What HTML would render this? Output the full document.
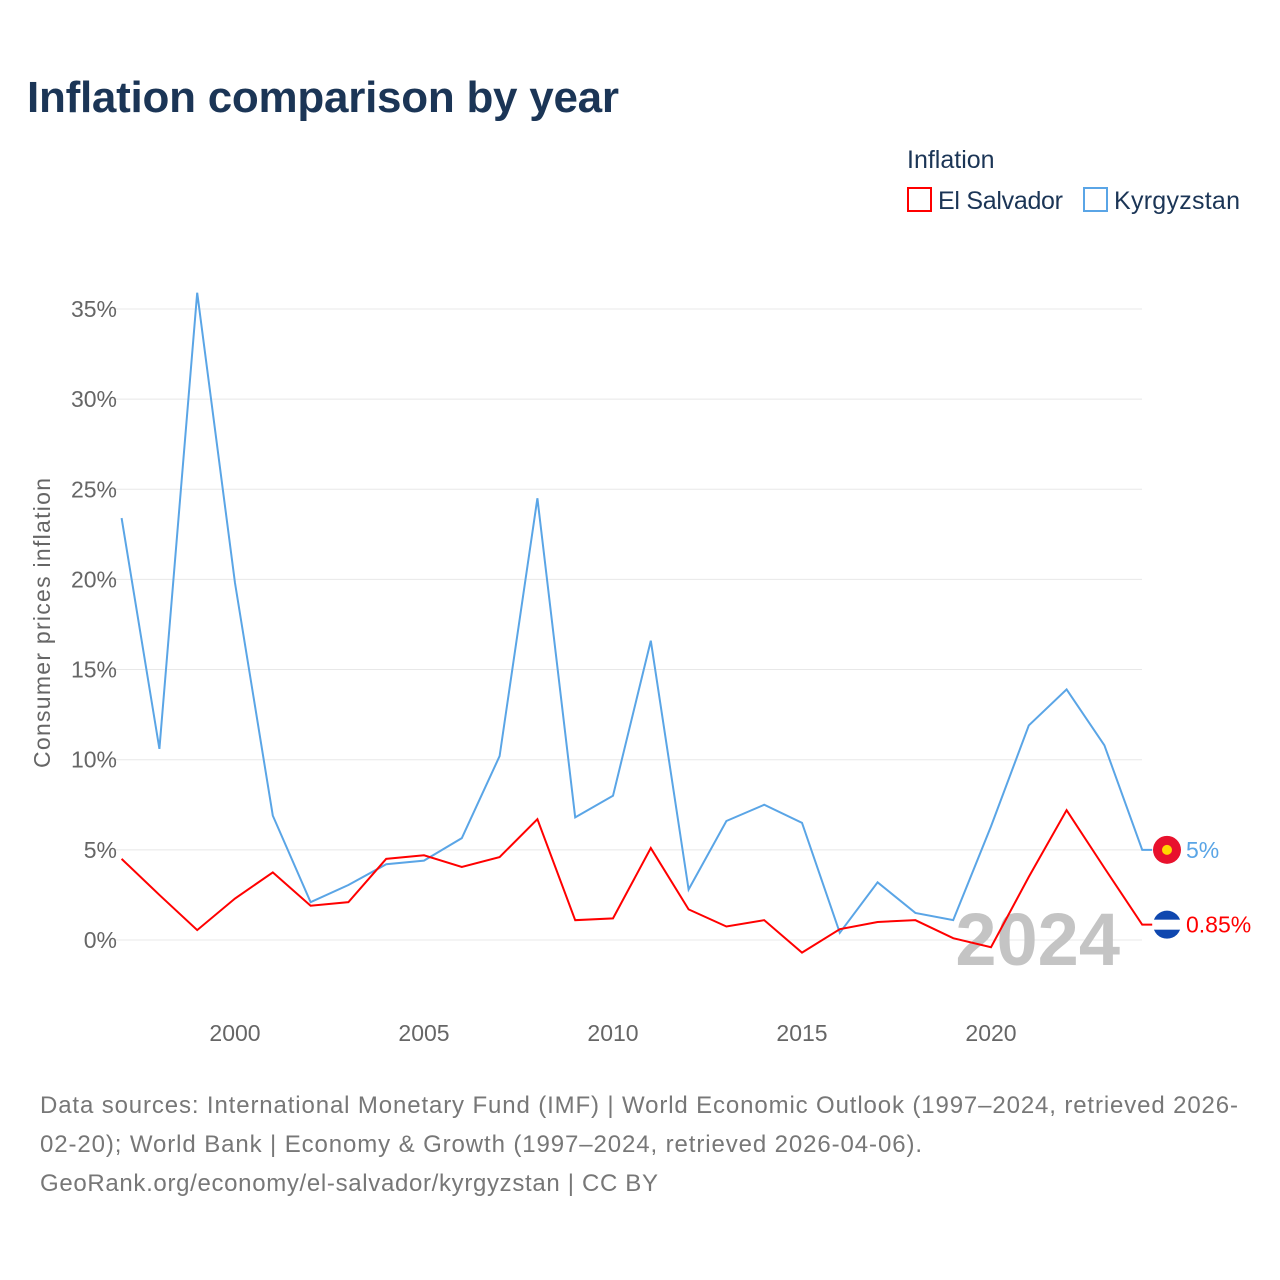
<!DOCTYPE html>
<html><head><meta charset="utf-8"><style>
body{margin:0;background:#fff;font-family:"Liberation Sans",sans-serif;}
#wrap{position:relative;width:1280px;height:1280px;overflow:hidden;background:#fff}
</style></head><body>
<div id="wrap">
<svg id="chart" width="1280" height="1280">
<text x="27" y="112" font-size="44" font-weight="bold" fill="#1b3556" textLength="592">Inflation comparison by year</text>
<g>
<text x="907" y="168" font-size="25" fill="#1b3556">Inflation</text>
<g><rect x="908" y="188" width="23" height="23" fill="none" stroke="#ff0000" stroke-width="2"/><text x="938" y="209" font-size="25" fill="#1b3556" textLength="125">El Salvador</text></g>
<g><rect x="1084" y="188" width="23" height="23" fill="none" stroke="#5aa5e6" stroke-width="2"/><text x="1114" y="209" font-size="25" fill="#1b3556" textLength="126">Kyrgyzstan</text></g>
</g>
<text transform="translate(50,623) rotate(-90)" text-anchor="middle" font-size="23" fill="#666" textLength="290">Consumer prices inflation</text>
<g id="grid"></g><g id="xt"></g>
<text x="1120" y="965" text-anchor="end" font-size="74" font-weight="bold" fill="#c4c4c4">2024</text>
<g id="lines"></g>
<text x="40" y="1113" font-size="24" fill="#777" textLength="1198">Data sources: International Monetary Fund (IMF) | World Economic Outlook (1997–2024, retrieved 2026-</text>
<text x="40" y="1152" font-size="24" fill="#777" textLength="882">02-20); World Bank | Economy &amp; Growth (1997–2024, retrieved 2026-04-06).</text>
<text x="40" y="1191" font-size="24" fill="#777" textLength="618">GeoRank.org/economy/el-salvador/kyrgyzstan | CC BY</text>
</svg></div>
<script>
const years=[1997,1998,1999,2000,2001,2002,2003,2004,2005,2006,2007,2008,2009,2010,2011,2012,2013,2014,2015,2016,2017,2018,2019,2020,2021,2022,2023,2024];
const kyrgyzstan=[23.4,10.6,35.9,19.8,6.9,2.1,3.05,4.2,4.4,5.65,10.2,24.5,6.8,8.0,16.6,2.8,6.6,7.5,6.5,0.4,3.2,1.5,1.1,6.3,11.9,13.9,10.8,5.0];
const elSalvador=[4.5,2.5,0.55,2.3,3.75,1.9,2.1,4.5,4.7,4.05,4.6,6.7,1.1,1.2,5.1,1.7,0.75,1.1,-0.7,0.6,1.0,1.1,0.1,-0.4,3.5,7.2,4.0,0.85];
const yTicks=[0,5,10,15,20,25,30,35];
const xTicks=[2000,2005,2010,2015,2020];
const NS="http://www.w3.org/2000/svg";
const x=v=>121.6+(v-1997)*37.8;
const y=v=>940-v*18.03;
function mk(t,a,p){const e=document.createElementNS(NS,t);for(const k in a)e.setAttribute(k,a[k]);p.appendChild(e);return e;}
const grid=document.getElementById('grid');
yTicks.forEach(t=>{
 const l=mk('line',{x1:110,x2:1142,y1:y(t),y2:y(t),stroke:'#e8e8e8','stroke-width':1},grid);
 
 
 const tx=mk('text',{x:117,y:y(t)+8,'text-anchor':'end','font-size':23,fill:'#666'},grid);
 tx.textContent=t+'%';
 
 
});
const xt=document.getElementById('xt');
xTicks.forEach(t=>{
 const tx=mk('text',{x:x(t),y:1041,'text-anchor':'middle','font-size':23,fill:'#666'},xt);
 tx.textContent=t;
 
 
});
const lines=document.getElementById('lines');
function series(vals,col,name,label,flagFill){
 const pts=vals.map((v,i)=>x(years[i])+','+y(v)).join(' ');
 const last=vals[vals.length-1];
 const p=mk('polyline',{points:pts+' '+(x(2024)+10)+','+y(last),fill:'none',stroke:col,'stroke-width':2},lines);
 
 
 const c=mk('circle',{cx:1167,cy:y(last),r:14,fill:flagFill},lines);
 
 
 const t=mk('text',{x:1186,y:y(last)+8,'font-size':23,fill:col},lines);
 t.textContent=label;
 
 
 return c;
}
series(kyrgyzstan,'#5aa5e6','kyrgyzstan','5%','#e8112d');
mk('circle',{cx:1167,cy:y(5),r:5,fill:'#ffd700'},lines);
const es=series(elSalvador,'#ff0000','el-salvador','0.85%','#0f47af');
mk('rect',{x:1153,y:y(0.85)-5,width:28,height:10,fill:'#fff'},lines);
</script>
</body></html>
